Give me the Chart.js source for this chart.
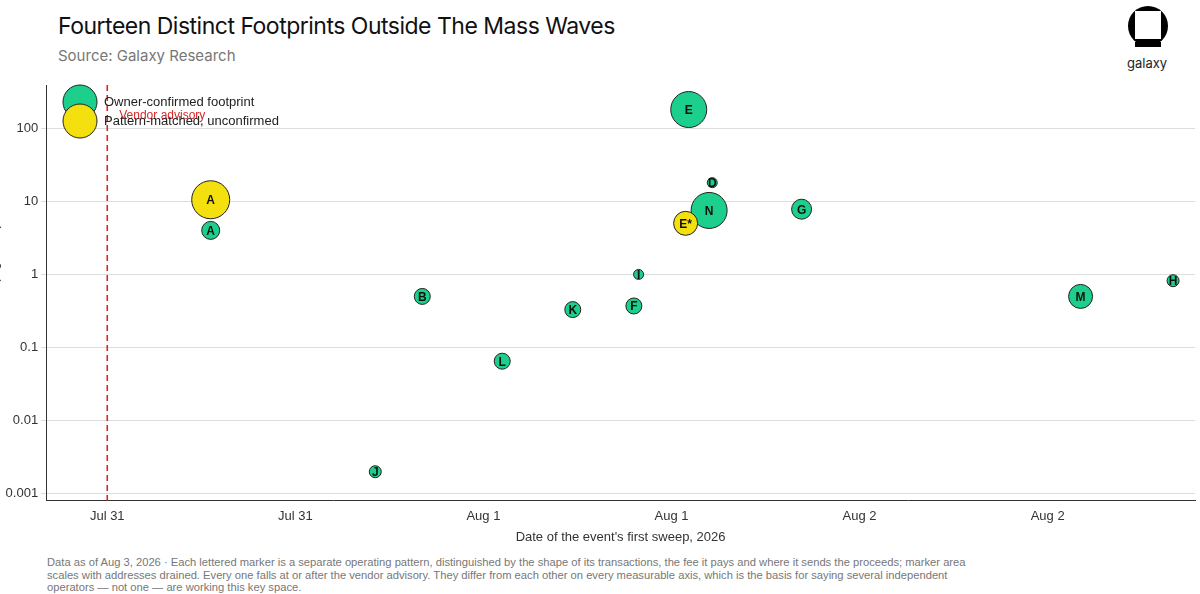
<!DOCTYPE html>
<html><head><meta charset="utf-8">
<script src="https://cdn.jsdelivr.net/npm/chart.js@4"></script>
<style>
body{margin:0;width:1200px;height:594px;background:#fff;font-family:Inter,"Liberation Sans",sans-serif;position:relative;overflow:hidden}
#t{position:absolute;left:58px;top:12px;font-size:23px;color:#111;letter-spacing:-0.5px}
#s{position:absolute;left:58px;top:46px;font-size:15px;color:#777}
#f{position:absolute;left:47px;top:556px;width:945px;font-size:11.2px;color:#777;line-height:12.5px;font-family:"Liberation Sans",Arial,sans-serif}
#lt{position:absolute;left:1127px;top:55px;font-size:13px;color:#222}
canvas{position:absolute;left:-15px;top:0}
</style></head><body>
<div id="t">Fourteen Distinct Footprints Outside The Mass Waves</div>
<div id="s">Source: Galaxy Research</div>
<svg viewBox="0 0 44 44" width="44" height="44" style="position:absolute;left:1126px;top:6px">
<circle cx="22" cy="20" r="20" fill="#000"/><rect x="9" y="5" width="26" height="28" fill="#fff"/><rect x="9" y="36" width="26" height="5" fill="#000"/></svg>
<div id="lt">galaxy</div>
<div id="f">Data as of Aug 3, 2026 · Each lettered marker is a separate operating pattern, distinguished by the shape of its transactions, the fee it pays and where it sends the proceeds; marker area scales with addresses drained. Every one falls at or after the vendor advisory. They differ from each other on every measurable axis, which is the basis for saying several independent operators — not one — are working this key space.</div>
<canvas id="c" width="1230" height="594"></canvas>
<script>
// hours since Jul 31 00:00
const ownerLabels=["A","B","J","L","K","F","I","E","D","N","G","M","H"];
const ownerX=[6.6,20.1,17.1,25.2,29.7,33.6,33.9,37.1,38.6,38.4,44.3,62.1,68.0];
const ownerY=[4.0,0.5,0.002,0.065,0.33,0.37,1.0,180,18,7.5,7.8,0.5,0.82];
const ownerR=[9,8,6,8,8,8,5,18,5,18,10,12,6];
const patLabels=["A","E*"];
const patX=[6.6,36.9];
const patY=[10.5,5.0];
const patR=[19,12];
const tickVals=[0,12,24,36,48,60];
const tickLabels=["Jul 31","Jul 31","Aug 1","Aug 1","Aug 2","Aug 2"];
const advisoryX=0;
const mk=(xs,ys,rs,ls)=>xs.map((x,i)=>({x:x,y:ys[i],r:rs[i],l:ls[i]}));
const labelPlugin={id:'lp',afterDatasetsDraw(ch){const c=ch.ctx;c.save();c.font='bold 12px "Liberation Sans",Arial';c.textAlign='center';c.textBaseline='middle';c.fillStyle='#111';
ch.data.datasets.forEach((d,di)=>{ch.getDatasetMeta(di).data.forEach((el,i)=>{c.fillText(d.data[i].l,el.x,el.y+1);});});
const xs=ch.scales.x,a=ch.chartArea,px=xs.getPixelForValue(advisoryX);
c.strokeStyle='#d62728';c.lineWidth=1.6;c.setLineDash([6,4]);c.beginPath();c.moveTo(px,a.top);c.lineTo(px,a.bottom);c.stroke();c.setLineDash([]);
c.fillStyle='#d62728';c.font='12px "Liberation Sans",Arial';c.textAlign='left';c.fillText('Vendor advisory',px+12,116);
// legend
const o=15;c.lineWidth=1;c.strokeStyle='#222';
c.fillStyle='#1ccf8c';c.beginPath();c.arc(80+o,102,17,0,7);c.fill();c.stroke();
c.fillStyle='#f5e00f';c.beginPath();c.arc(80+o,121,17,0,7);c.fill();c.stroke();
c.fillStyle='#222';c.font='13px "Liberation Sans",Arial';c.fillText('Owner-confirmed footprint',104+o,102);c.fillText('Pattern-matched, unconfirmed',104+o,121);
c.restore();}};
new Chart(document.getElementById('c'),{type:'bubble',
data:{datasets:[
{data:mk(patX,patY,patR,patLabels),backgroundColor:'#f5e00f',borderColor:'#222',borderWidth:1},
{data:mk(ownerX,ownerY,ownerR,ownerLabels),backgroundColor:'#1ccf8c',borderColor:'#222',borderWidth:1}]},
options:{responsive:false,animation:false,layout:{padding:{top:85,right:18,bottom:45,left:2}},
plugins:{legend:{display:false},tooltip:{enabled:false}},
scales:{x:{type:'linear',min:-3.9,max:69.4,afterBuildTicks(s){s.ticks=tickVals.map(v=>({value:v}));},
ticks:{callback:(v)=>tickLabels[tickVals.indexOf(v)],color:'#333',font:{size:13,family:'Liberation Sans'},maxRotation:0},
grid:{display:false,drawTicks:true,tickLength:5,color:'#333'},border:{color:'#333'},
title:{display:true,text:"Date of the event's first sweep, 2026",color:'#333',font:{size:13,family:'Liberation Sans'},padding:{top:2}}},
y:{type:'logarithmic',min:0.0008,max:390,afterBuildTicks(s){s.ticks=[0.001,0.01,0.1,1,10,100].map(v=>({value:v}));},
ticks:{callback:v=>String(v),color:'#333',font:{size:13,family:'Liberation Sans'}},
grid:{color:'#ddd',tickLength:5},border:{color:'#333'},
title:{display:true,text:'Bitcoin taken (log scale)',color:'#333',font:{size:13,family:'Liberation Sans'},padding:0}}}},
plugins:[labelPlugin]});
</script></body></html>
